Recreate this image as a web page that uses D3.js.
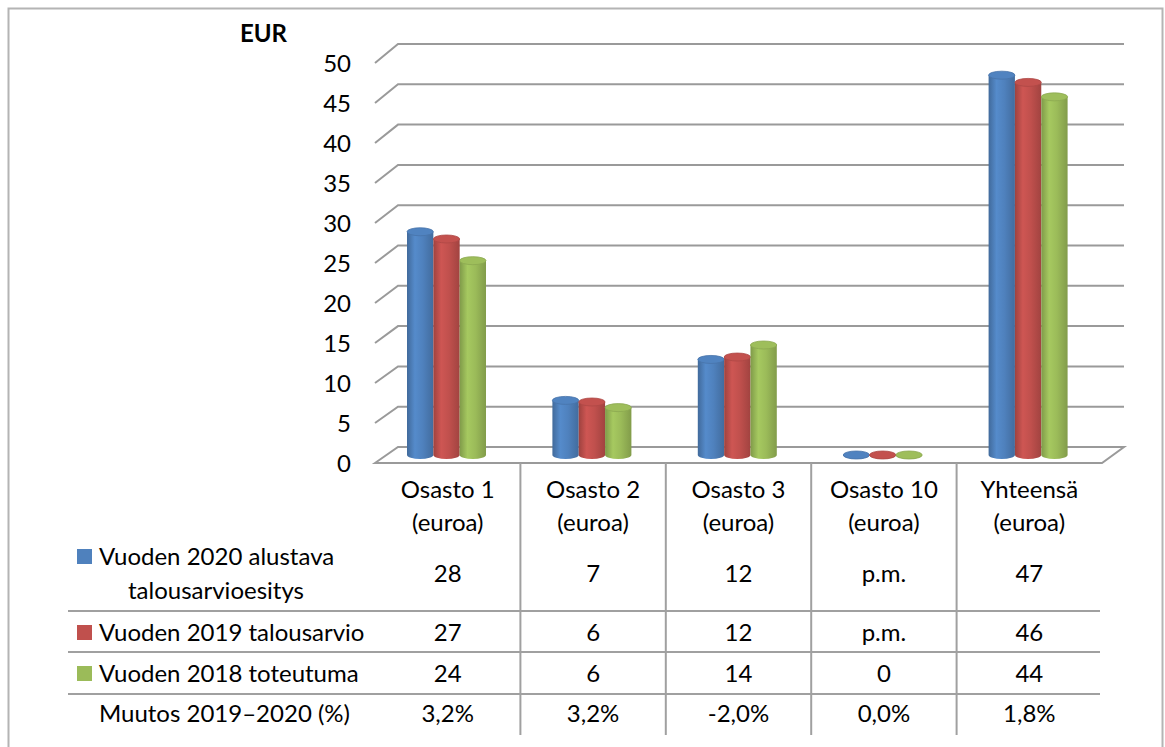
<!DOCTYPE html>
<meta charset="utf-8">
<style>

body {
  margin: 0;
  background: #fff;
}

text {
  font-family: Lato, "Noto Sans", sans-serif;
  font-size: 24px;
  fill: #000;
}

.grid {
  stroke: #9a9a9a;
  stroke-width: 2;
  fill: none;
}

.tbl {
  stroke: #a0a0a0;
  stroke-width: 2;
}

</style>
<body>
<script src="https://d3js.org/d3.v7.min.js"></script>
<script>

var categories = ["Osasto 1", "Osasto 2", "Osasto 3", "Osasto 10", "Yhteensä"];
var categorySub = "(euroa)";

var seriesNames = ["Vuoden 2020 alustava talousarvioesitys", "Vuoden 2019 talousarvio", "Vuoden 2018 toteutuma"];
var seriesColors = ["#4F81BD", "#C0504D", "#9BBB59"];

// bar heights
var values2020 = [27.8, 6.8, 11.9, 0, 47.3];
var values2019 = [26.9, 6.6, 12.2, 0, 46.4];
var values2018 = [24.2, 5.9, 13.7, 0, 44.6];

// the numbers printed in the data table
var table2020 = ["28", "7", "12", "p.m.", "47"];
var table2019 = ["27", "6", "12", "p.m.", "46"];
var table2018 = ["24", "6", "14", "0", "44"];
var changeLabel = "Muutos 2019–2020 (%)";
var changes = ["3,2%", "3,2%", "-2,0%", "0,0%", "1,8%"];

var yTicks = [0, 5, 10, 15, 20, 25, 30, 35, 40, 45, 50];

var series = [values2020, values2019, values2018];
var tableRows = [table2020, table2019, table2018];

var W = 1165, H = 747;
var depthX = 23, wallRight = 1124;

var svg = d3.select("body").append("svg")
    .attr("width", W)
    .attr("height", H);

var defs = svg.append("defs");

function shade(c, k) {
  return k > 0 ? d3.color(c).brighter(k).formatHex() : d3.color(c).darker(-k).formatHex();
}

seriesColors.forEach(function(c, i) {
  var g = defs.append("linearGradient")
      .attr("id", "cyl" + i)
      .attr("x1", 0).attr("x2", 1).attr("y1", 0).attr("y2", 0);
  g.append("stop").attr("offset", "0%").attr("stop-color", shade(c, -0.55));
  g.append("stop").attr("offset", "30%").attr("stop-color", shade(c, 0.2));
  g.append("stop").attr("offset", "60%").attr("stop-color", c);
  g.append("stop").attr("offset", "100%").attr("stop-color", shade(c, -0.5));
});

var xBand = d3.scaleBand()
    .domain(categories)
    .range([375, 1102]);

var xSeries = d3.scaleBand()
    .domain(d3.range(series.length))
    .range([32, 111]);

var yFront = d3.scaleLinear().domain([0, 50]).range([463, 63]);
var yBack = d3.scaleLinear().domain([0, 50]).range([447, 44]);
var yMid = d3.scaleLinear().domain([0, 50]).range([455, 53.5]);

// outer frame
svg.append("rect")
    .attr("x", 8.5).attr("y", 8.5)
    .attr("width", 1154).attr("height", 760)
    .attr("fill", "none")
    .attr("stroke", "#b4b4b4")
    .attr("stroke-width", 2);

// gridlines (left wall edge + back wall)
svg.selectAll(".grid")
    .data(yTicks.filter(function(t) { return t > 0; }))
  .enter().append("polyline")
    .attr("class", "grid")
    .attr("points", function(t) {
      return [[375, yFront(t)], [375 + depthX, yBack(t)], [wallRight, yBack(t)]].join(" ");
    });

// floor
svg.append("polygon")
    .attr("class", "grid")
    .attr("points", [[375, yFront(0)], [375 + depthX, yBack(0)], [wallRight, yBack(0)], [xBand.range()[1], yFront(0)]].join(" "));

svg.append("text")
    .attr("x", 240)
    .attr("y", 42)
    .style("font-weight", "bold")
    .text("EUR");

svg.selectAll(".ytick")
    .data(yTicks)
  .enter().append("text")
    .attr("class", "ytick")
    .attr("x", 351)
    .attr("y", function(d) { return yFront(d); })
    .attr("dy", "0.36em")
    .attr("text-anchor", "end")
    .text(function(d) { return d; });

// cylinders
var rx = xSeries.bandwidth() / 2, ry = 4;

series.forEach(function(vals, si) {
  var g = svg.append("g");
  vals.forEach(function(v, ci) {
    var cx = xBand(categories[ci]) + xSeries(si) + rx;
    var y0 = yMid(0), y1 = yMid(v);
    g.append("path")
        .attr("d", "M" + (cx - rx) + "," + y1 +
                   " L" + (cx - rx) + "," + y0 +
                   " A" + rx + "," + ry + " 0 0 0 " + (cx + rx) + "," + y0 +
                   " L" + (cx + rx) + "," + y1 + " Z")
        .attr("fill", "url(#cyl" + si + ")");
    g.append("ellipse")
        .attr("cx", cx).attr("cy", y1)
        .attr("rx", rx).attr("ry", ry)
        .attr("fill", shade(seriesColors[si], 0.05))
        .attr("stroke", shade(seriesColors[si], -0.3))
        .attr("stroke-width", 0.8);
  });
});

// data table
var bounds = xBand.domain().slice(1).map(function(c) { return xBand(c); });

svg.selectAll(".vline")
    .data(bounds)
  .enter().append("line")
    .attr("class", "tbl")
    .attr("x1", function(d) { return d; })
    .attr("x2", function(d) { return d; })
    .attr("y1", yFront(0))
    .attr("y2", 735);

var rowLines = [611, 652, 694];
svg.selectAll(".hline")
    .data(rowLines)
  .enter().append("line")
    .attr("class", "tbl")
    .attr("x1", 68)
    .attr("x2", 1100)
    .attr("y1", function(d) { return d; })
    .attr("y2", function(d) { return d; });

var colCenter = function(c) { return xBand(c) + xBand.bandwidth() / 2; };

svg.selectAll(".cat")
    .data(categories)
  .enter().append("text")
    .attr("x", colCenter)
    .attr("y", 489)
    .attr("dy", "0.36em")
    .attr("text-anchor", "middle")
    .text(function(d) { return d; });

svg.selectAll(".catsub")
    .data(categories)
  .enter().append("text")
    .attr("x", colCenter)
    .attr("y", 522)
    .attr("dy", "0.36em")
    .attr("text-anchor", "middle")
    .text(categorySub);

var rowY = [573, 632, 673, 713];

tableRows.concat([changes]).forEach(function(row, ri) {
  svg.selectAll(".row" + ri)
      .data(row)
    .enter().append("text")
      .attr("x", function(d, i) { return colCenter(categories[i]); })
      .attr("y", rowY[ri])
      .attr("dy", "0.36em")
      .attr("text-anchor", "middle")
      .text(function(d) { return d; });
});

// legend keys + row headers
var keyY = [556, 632, 673];
seriesColors.forEach(function(c, i) {
  svg.append("rect")
      .attr("x", 77)
      .attr("y", keyY[i] - 7)
      .attr("width", 15)
      .attr("height", 15)
      .attr("fill", c);
});

svg.append("text").attr("x", 99).attr("y", 556).attr("dy", "0.36em").text("Vuoden 2020 alustava");
svg.append("text").attr("x", 128).attr("y", 590).attr("dy", "0.36em").text("talousarvioesitys");
svg.append("text").attr("x", 99).attr("y", 632).attr("dy", "0.36em").text(seriesNames[1]);
svg.append("text").attr("x", 99).attr("y", 673).attr("dy", "0.36em").text(seriesNames[2]);
svg.append("text").attr("x", 99).attr("y", 713).attr("dy", "0.36em").text(changeLabel);

</script>
